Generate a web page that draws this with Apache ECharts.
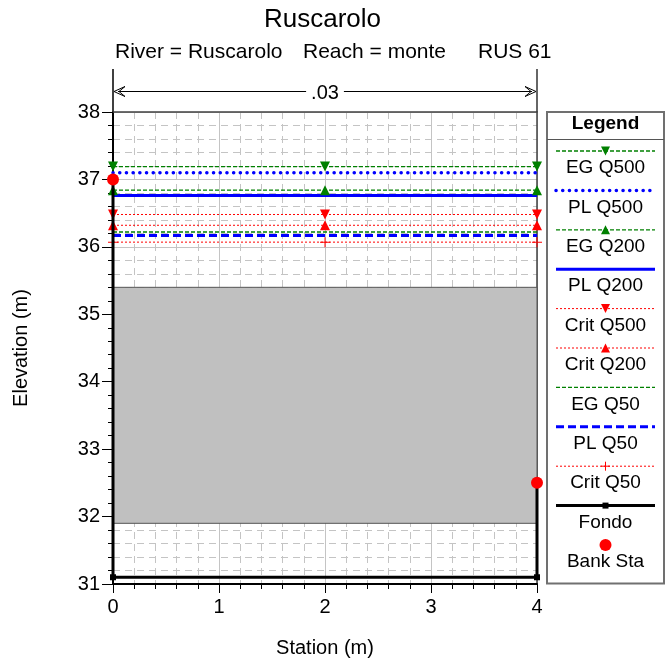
<!DOCTYPE html>
<html><head><meta charset="utf-8">
<script src="https://cdn.jsdelivr.net/npm/echarts@6/dist/echarts.min.js"></script>
<style>html,body{margin:0;padding:0;background:#fff}#c{width:669px;height:666px}</style>
</head><body><div id="c"></div>
<script>
// ---------- data ----------
const stations = [0, 2, 4];
const egQ500 = [37.19, 37.19, 37.19];
const plQ500 = [37.10, 37.10, 37.10];
const egQ200 = [36.84, 36.84, 36.84];
const plQ200 = [36.76, 36.76, 36.76];
const critQ500 = [36.48, 36.48, 36.48];
const critQ200 = [36.32, 36.32, 36.32];
const egQ50 = [36.22, 36.22, 36.22];
const plQ50 = [36.17, 36.17, 36.17];
const critQ50 = [36.07, 36.07, 36.07];
const fondoStation = [0, 0, 4, 4];
const fondoElev = [37.0, 31.1, 31.1, 32.5];
const bankStation = [0, 4];
const bankElev = [37.0, 32.5];
const obstruction = [0, 4, 31.9, 35.4]; // station from, station to, elev bottom, elev top
const nValueLabel = '.03';
const nFrom = 0, nTo = 4;
const titleText = 'Ruscarolo';
const subTexts = ['River = Ruscarolo', 'Reach = monte', 'RUS 61'];
const xName = 'Station (m)';
const yName = 'Elevation (m)';

// ---------- styles ----------
const FONT = '"Liberation Sans", Arial, sans-serif';
const PLUS = 'path://M4.5,0 h1 v4.5 h4.5 v1 h-4.5 v4.5 h-1 v-4.5 h-4.5 v-1 h4.5 z';
const lineDefs = [
  {name:'EG Q500', values:egQ500, color:'#008000', width:1.3, dash:[4,2], symbol:'triangle', rotate:180},
  {name:'PL Q500', values:plQ500, color:'#0000ff', width:3.5, dash:[0.1,6.6], cap:'round', symbol:'none'},
  {name:'EG Q200', values:egQ200, color:'#008000', width:1.3, dash:[4,2], symbol:'triangle', rotate:0},
  {name:'PL Q200', values:plQ200, color:'#0000ff', width:3, dash:'solid', symbol:'none'},
  {name:'Crit Q500', values:critQ500, color:'#ff0000', width:1, dash:[2,2], symbol:'triangle', rotate:180},
  {name:'Crit Q200', values:critQ200, color:'#ff0000', width:1, dash:[2,2], symbol:'triangle', rotate:0},
  {name:'EG Q50', values:egQ50, color:'#008000', width:1.3, dash:[4,2], symbol:'none'},
  {name:'PL Q50', values:plQ50, color:'#0000ff', width:3, dash:[8,4], symbol:'none'},
  {name:'Crit Q50', values:critQ50, color:'#ff0000', width:1, dash:[2,2], symbol:PLUS, rotate:0}
];

const chart = echarts.init(document.getElementById('c'));

const series = [];
series.push({
  name:'Obstruction', type:'custom', silent:true, z:1,
  data:[obstruction],
  encode:{x:[0,1], y:[2,3]},
  renderItem:function(params, api){
    const p1 = api.coord([api.value(0), api.value(3)]);
    const p2 = api.coord([api.value(1), api.value(2)]);
    return {type:'rect', shape:{x:p1[0], y:p1[1], width:p2[0]-p1[0], height:p2[1]-p1[1]},
      style:{fill:'#c0c0c0', stroke:'#555555', lineWidth:1}};
  }
});
lineDefs.forEach(function(d){
  series.push({
    name:d.name, type:'line', clip:false, z:3,
    data: stations.map(function(s,i){return [s, d.values[i]];}),
    showSymbol: d.symbol !== 'none',
    symbol: d.symbol === 'none' ? 'none' : d.symbol,
    symbolSize: 10, symbolRotate: d.rotate || 0,
    itemStyle:{color:d.color, opacity:1},
    lineStyle:{color:d.color, width:d.width, type:d.dash, cap:d.cap || 'butt'},
    emphasis:{disabled:true}, animation:false
  });
});
series.push({
  name:'Fondo', type:'line', clip:false, z:4,
  data: fondoStation.map(function(s,i){return [s, fondoElev[i]];}),
  symbol:'rect', symbolSize:6, showSymbol:true,
  itemStyle:{color:'#000', opacity:1}, lineStyle:{color:'#000', width:3},
  emphasis:{disabled:true}, animation:false
});
series.push({
  name:'Bank Sta', type:'scatter', clip:false, z:5,
  data: bankStation.map(function(s,i){return [s, bankElev[i]];}),
  symbol:'circle', symbolSize:12, itemStyle:{color:'#ff0000', opacity:1},
  emphasis:{disabled:true}, animation:false
});

const gridColor = '#c4c4c4';
const option = {
  animation:false,
  backgroundColor:'#ffffff',
  textStyle:{fontFamily:FONT},
  title:[
    {text:titleText, left:264, top:7.3, padding:0, textStyle:{fontSize:26, fontWeight:'normal', color:'#000', fontFamily:FONT}},
    {text:subTexts[0], left:115, top:41.5, padding:0, textStyle:{fontSize:21, fontWeight:'normal', color:'#000', fontFamily:FONT}},
    {text:subTexts[1], left:303, top:41.5, padding:0, textStyle:{fontSize:21, fontWeight:'normal', color:'#000', fontFamily:FONT}},
    {text:subTexts[2], left:478, top:41.5, padding:0, textStyle:{fontSize:21, fontWeight:'normal', color:'#000', fontFamily:FONT}}
  ],
  grid:{left:113, right:132, top:112, bottom:82, containLabel:false},
  xAxis:[{
    type:'value', min:0, max:4, interval:1, position:'bottom',
    name:xName, nameLocation:'middle', nameGap:54,
    nameTextStyle:{fontSize:20, color:'#000', fontFamily:FONT},
    axisLine:{show:true, onZero:false, lineStyle:{color:'#000', width:2}},
    axisTick:{show:true, length:9, lineStyle:{color:'#000', width:1}},
    minorTick:{show:true, splitNumber:5, length:5, lineStyle:{color:'#000', width:1}},
    axisLabel:{fontSize:20, color:'#000', margin:13, fontFamily:FONT},
    splitLine:{show:true, lineStyle:{color:gridColor, width:1}},
    minorSplitLine:{show:true, lineStyle:{color:gridColor, width:1, type:[7,5]}}
  },{
    type:'value', min:0, max:4, interval:1, position:'top',
    axisLine:{show:true, onZero:false, lineStyle:{color:'#404040', width:1.5}},
    axisTick:{show:false}, axisLabel:{show:false}, splitLine:{show:false}
  }],
  yAxis:[{
    type:'value', min:31, max:38, interval:1, position:'left',
    name:yName, nameLocation:'middle', nameGap:82, nameRotate:90,
    nameTextStyle:{fontSize:20, color:'#000', fontFamily:FONT},
    axisLine:{show:true, onZero:false, lineStyle:{color:'#000', width:2}},
    axisTick:{show:true, length:11, lineStyle:{color:'#000', width:1}},
    minorTick:{show:true, splitNumber:5, length:5, lineStyle:{color:'#000', width:1}},
    axisLabel:{fontSize:20, color:'#000', margin:13, fontFamily:FONT},
    splitLine:{show:true, lineStyle:{color:gridColor, width:1}},
    minorSplitLine:{show:true, lineStyle:{color:gridColor, width:1, type:[7,5]}}
  },{
    type:'value', min:31, max:38, interval:1, position:'right',
    axisLine:{show:true, onZero:false, lineStyle:{color:'#404040', width:1.5}},
    axisTick:{show:false}, axisLabel:{show:false}, splitLine:{show:false}
  }],
  series:series
};
chart.setOption(option);

// ---------- annotations (n value dimension) and legend ----------
const gx0 = chart.convertToPixel({xAxisIndex:0}, nFrom);
const gx1 = chart.convertToPixel({xAxisIndex:0}, nTo);
const gTop = chart.convertToPixel({yAxisIndex:0}, 38);
const dimY = gTop - 20.5;
const graphics = [];
graphics.push({type:'line', shape:{x1:gx0, y1:gTop-43, x2:gx0, y2:gTop}, style:{stroke:'#000', lineWidth:1.5}});
graphics.push({type:'line', shape:{x1:gx1, y1:gTop-43, x2:gx1, y2:gTop}, style:{stroke:'#333', lineWidth:1.5}});
graphics.push({type:'line', shape:{x1:gx0+5, y1:dimY, x2:gx1-5, y2:dimY}, style:{stroke:'#000', lineWidth:1}});
graphics.push({type:'polygon', shape:{points:[[gx0+1,dimY],[gx0+12,dimY-5],[gx0+6,dimY],[gx0+12,dimY+5]]}, style:{stroke:'#000', fill:'none', lineWidth:1}});
graphics.push({type:'polygon', shape:{points:[[gx1-1,dimY],[gx1-12,dimY-5],[gx1-6,dimY],[gx1-12,dimY+5]]}, style:{stroke:'#000', fill:'none', lineWidth:1}});
graphics.push({type:'text', x:(gx0+gx1)/2, y:dimY+1.5, z:10, style:{text:nValueLabel, fontSize:20, fontFamily:FONT, fill:'#000', align:'center', verticalAlign:'middle', backgroundColor:'#fff', padding:[0,5]}});

// legend box
const LX = 547, LW = 117, LTop = 112, LBottom = 583.5;
const LCX = LX + LW/2;
graphics.push({type:'rect', shape:{x:LX, y:LTop, width:LW, height:LBottom-LTop}, style:{stroke:'#707070', fill:'#fff', lineWidth:2}, z:5});
graphics.push({type:'line', shape:{x1:LX, y1:139.5, x2:LX+LW, y2:139.5}, style:{stroke:'#555', lineWidth:1}, z:6});
graphics.push({type:'text', x:LCX, y:124, z:6, style:{text:'Legend', fontSize:19, fontWeight:'bold', fontFamily:FONT, fill:'#000', align:'center', verticalAlign:'middle'}});

const legendEntries = lineDefs.map(function(d){return d;}).concat([
  {name:'Fondo', color:'#000', width:3, dash:'solid', symbol:'rect'},
  {name:'Bank Sta', color:'#ff0000', symbol:'circle', noLine:true}
]);
function dashArr(d){ return d === 'solid' ? null : d; }
legendEntries.forEach(function(d, i){
  const ly = 151 + 39.4*i;
  const x1 = 556, x2 = 655;
  if (!d.noLine) {
    graphics.push({type:'line', z:6, shape:{x1:x1, y1:ly, x2:x2, y2:ly},
      style:{stroke:d.color, lineWidth:d.width, lineDash:dashArr(d.dash), lineCap:d.cap || 'butt'}});
  }
  const s = 4.5;
  if (d.symbol === 'triangle') {
    const pts = d.rotate ? [[LCX-s,ly-s],[LCX+s,ly-s],[LCX,ly+s]] : [[LCX-s,ly+s],[LCX+s,ly+s],[LCX,ly-s]];
    graphics.push({type:'polygon', z:7, shape:{points:pts}, style:{fill:d.color}});
  } else if (d.symbol === PLUS) {
    graphics.push({type:'line', z:7, shape:{x1:LCX-s, y1:ly, x2:LCX+s, y2:ly}, style:{stroke:d.color, lineWidth:1}});
    graphics.push({type:'line', z:7, shape:{x1:LCX, y1:ly-s, x2:LCX, y2:ly+s}, style:{stroke:d.color, lineWidth:1}});
  } else if (d.symbol === 'rect') {
    graphics.push({type:'rect', z:7, shape:{x:LCX-3, y:ly-3, width:6, height:6}, style:{fill:'#000'}});
  } else if (d.symbol === 'circle') {
    graphics.push({type:'circle', z:7, shape:{cx:LCX, cy:ly, r:6}, style:{fill:'#ff0000'}});
  }
  graphics.push({type:'text', x:LCX, y:ly+17, z:7, style:{text:d.name, fontSize:19, fontFamily:FONT, fill:'#000', align:'center', verticalAlign:'middle'}});
});

chart.setOption({graphic:graphics});
</script>
</body></html>
